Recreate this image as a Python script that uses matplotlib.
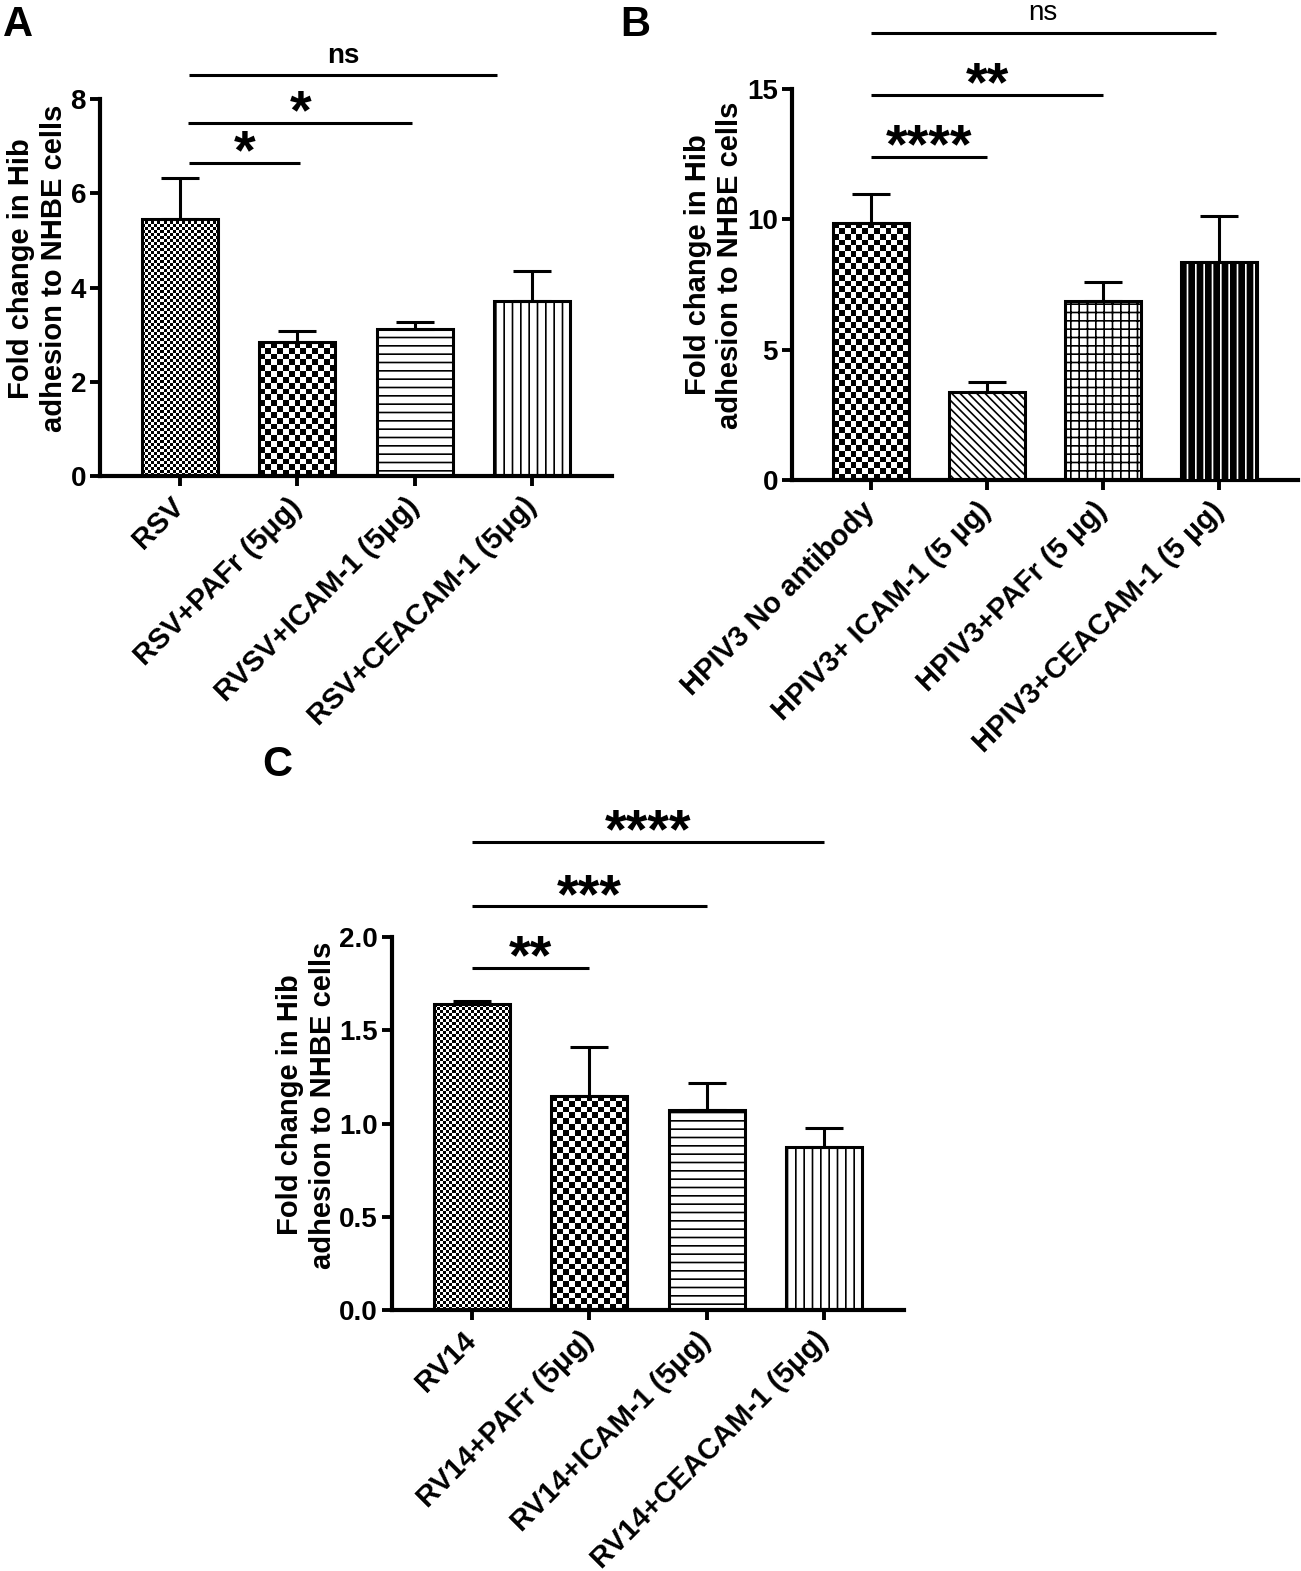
import numpy as np
import matplotlib
matplotlib.use("Agg")
import matplotlib.pyplot as plt

plt.rcParams['font.family'] = ['Liberation Sans', 'DejaVu Sans']
plt.rcParams['font.weight'] = 'bold'
plt.rcParams['hatch.linewidth'] = 1.2

# ---- data ----
a_labels = ['RSV', 'RSV+PAFr (5μg)', 'RVSV+ICAM-1 (5μg)', 'RSV+CEACAM-1 (5μg)']
a_means = [5.46, 2.84, 3.11, 3.71]
a_sem = [0.87, 0.23, 0.15, 0.63]

b_labels = ['HPIV3 No antibody', 'HPIV3+ ICAM-1 (5 µg)', 'HPIV3+PAFr (5 µg)',
            'HPIV3+CEACAM-1 (5 µg)']
b_means = [9.86, 3.36, 6.88, 8.36]
b_sem = [1.12, 0.40, 0.71, 1.77]

c_labels = ['RV14', 'RV14+PAFr (5μg)', 'RV14+ICAM-1 (5μg)', 'RV14+CEACAM-1 (5μg)']
c_means = [1.64, 1.15, 1.07, 0.875]
c_sem = [0.015, 0.26, 0.145, 0.10]

# significance brackets: (start bar, end bar, height, text)
a_sig = [(0.08, 2.70, 8.50, 'ns'), (0.07, 1.98, 7.50, '*'), (0.08, 1.02, 6.65, '*')]
b_sig = [(0.0, 2.97, 17.15, 'ns'), (0.0, 2.0, 14.77, '**'), (0.0, 1.0, 12.39, '****')]
c_sig = [(0.0, 3.0, 2.51, '****'), (0.0, 2.0, 2.165, '***'), (0.0, 1.0, 1.835, '**')]

W, H = 1301, 1571
fig = plt.figure(figsize=(W / 100, H / 100), dpi=100)


def px_axes(left, right, top, bottom):
    return fig.add_axes([left / W, 1 - bottom / H, (right - left) / W, (bottom - top) / H])


def checker(ax, bar, cell):
    x0, y0 = bar.get_x(), bar.get_y()
    w, h = bar.get_width(), bar.get_height()
    p0 = ax.transData.transform((x0, y0))
    p1 = ax.transData.transform((x0 + w, y0 + h))
    nx = max(1, int(round((p1[0] - p0[0]) / cell)))
    ny = max(1, int(round((p1[1] - p0[1]) / cell)))
    grid = np.indices((ny, nx)).sum(axis=0) % 2
    ax.imshow(grid, cmap='gray', extent=(x0, x0 + w, y0, y0 + h),
              interpolation='nearest', aspect='auto', zorder=2.5,
              clip_path=bar, vmin=0, vmax=1)


def panel(ax, labels, means, sem, ymax, yticks, ytl, styles, sig):
    x = np.arange(len(means))
    ax.set_xlim(-0.68, 3.68)
    ax.set_ylim(0, ymax)
    bars = ax.bar(x, means, width=0.65, color='white', edgecolor='none', zorder=2)
    for b, st in zip(bars, styles):
        if st == 'fine':
            checker(ax, b, 3.0)
        elif st == 'coarse':
            checker(ax, b, 5.8)
        elif st == 'black':
            b.set_facecolor('black')
            ax.bar(b.get_x() + b.get_width() / 2, b.get_height(), width=b.get_width(),
                   color='none', edgecolor='white', hatch='||', linewidth=0, zorder=2.6)
        else:
            ax.bar(b.get_x() + b.get_width() / 2, b.get_height(), width=b.get_width(),
                   color='none', edgecolor='black', hatch=st, linewidth=0, zorder=2.6)
    ax.bar(x, means, width=0.65, fill=False, edgecolor='black', linewidth=2.2, zorder=3)
    ax.errorbar(x, means, yerr=[np.zeros(len(sem)), sem], fmt='none', ecolor='black',
                elinewidth=2.2, capsize=13.5, capthick=2.2, zorder=3)
    for s in ['top', 'right']:
        ax.spines[s].set_visible(False)
    for s in ['left', 'bottom']:
        ax.spines[s].set_linewidth(3)
    ax.set_yticks(yticks)
    ax.set_yticklabels(ytl)
    ax.set_xticks(x)
    ax.set_xticklabels(labels, rotation=45, ha='right', va='center', rotation_mode='anchor',
                       fontsize=21)
    ax.tick_params(direction='out', length=7, width=2.8, pad=3)
    ax.tick_params(axis='y', labelsize=20)
    ax.tick_params(axis='x', pad=12)
    ax.set_ylabel('Fold change in Hib\nadhesion to NHBE cells', fontsize=21,
                  fontweight='bold', labelpad=2)
    ax.yaxis.label.set_y(0.55)
    for x0, x1, y, t in sig:
        ax.plot([x0, x1], [y, y], color='black', lw=2.2, clip_on=False, solid_capstyle='butt')
        if t == 'ns':
            ax.annotate(t, ((x0 + x1) / 2, y), xytext=(0, 9), textcoords='offset points',
                        ha='center', va='baseline', fontsize=20, annotation_clip=False)
        else:
            ax.annotate(t, ((x0 + x1) / 2, y), xytext=(0, -4), textcoords='offset points',
                        ha='center', va='baseline', fontsize=40, annotation_clip=False)


axA = px_axes(100, 612, 99, 476)
panel(axA, a_labels, a_means, a_sem, 8, [0, 2, 4, 6, 8], ['0', '2', '4', '6', '8'],
      ['fine', 'coarse', '--', '||'], a_sig)

axB = px_axes(792, 1298, 89, 480)
panel(axB, b_labels, b_means, b_sem, 15, [0, 5, 10, 15], ['0', '5', '10', '15'],
      ['coarse', '\\\\\\\\', '++', 'black'], b_sig)
# the "ns" of panel B is in regular weight
for t in axB.texts:
    if t.get_text() == 'ns':
        t.set_fontweight('normal')

axC = px_axes(392, 904, 937, 1310)
panel(axC, c_labels, c_means, c_sem, 2.0, [0, 0.5, 1.0, 1.5, 2.0],
      ['0.0', '0.5', '1.0', '1.5', '2.0'], ['fine', 'coarse', '--', '||'], c_sig)

fig.text(3 / W, 1 - 36 / H, 'A', fontsize=30, fontweight='bold')
fig.text(620 / W, 1 - 36 / H, 'B', fontsize=30, fontweight='bold')
fig.text(262 / W, 1 - 776 / H, 'C', fontsize=30, fontweight='bold')

fig.savefig('out.png', dpi=100)
